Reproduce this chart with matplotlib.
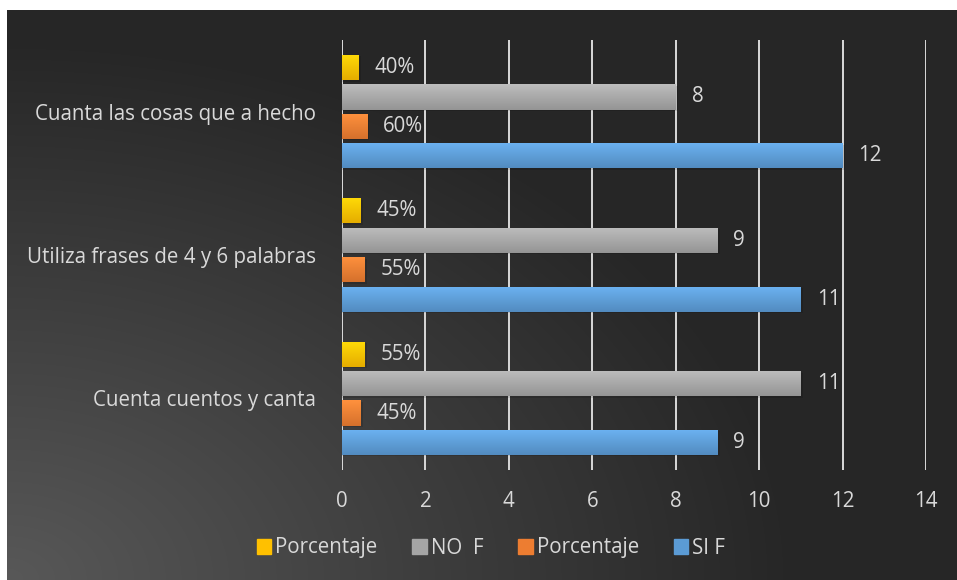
import matplotlib.pyplot as plt
import matplotlib.colors as mcolors
from matplotlib.patches import Patch
import numpy as np

plt.rcParams["font.family"] = ["Open Sans", "DejaVu Sans"]

categories = ["Cuenta cuentos y canta", "Utiliza frases de 4 y 6 palabras", "Cuanta las cosas que a hecho"]
si_f = [9, 11, 12]
si_pct = [0.45, 0.55, 0.60]
no_f = [11, 9, 8]
no_pct = [0.55, 0.45, 0.40]

series = [
    ("SI F", si_f, "#5B9BD5", False),
    ("Porcentaje", si_pct, "#ED7D31", True),
    ("NO  F", no_f, "#A5A5A5", False),
    ("Porcentaje", no_pct, "#FFC000", True),
]

W, H = 957, 580
fig = plt.figure(figsize=(W / 100, H / 100), dpi=100, facecolor="white")

# dark background with a soft light spot at the lower left
bg = fig.add_axes([7 / W, 0, 1 - 7 / W, 1 - 10 / H])
bg.set_axis_off()
yy, xx = np.mgrid[0:570, 0:950]
r = np.sqrt((xx / 950.0) ** 2 * 1.3 + ((569 - yy) / 570.0) ** 2)
t = np.clip(r / 0.95, 0, 1)
dark = np.array([38, 38, 38]) / 255.0
light = np.array([88, 88, 88]) / 255.0
img = light[None, None, :] * (1 - t[..., None]) + dark[None, None, :] * t[..., None]
bg.imshow(img, aspect="auto", extent=[0, 1, 0, 1])
bg.set_xlim(0, 1)
bg.set_ylim(0, 1)

ax = fig.add_axes([342 / W, 1 - 470 / H, (926 - 342) / W, (470 - 40) / H])
ax.patch.set_alpha(0)

y = np.arange(len(categories))
slot = 0.205
height = 0.175
text_col = "#D9D9D9"
fs = 14.8

for i, (name, vals, col, is_pct) in enumerate(series):
    off = (i - 1.5) * slot
    bars = ax.barh(y + off, vals, height=height, color=col, zorder=3)
    c = np.array(mcolors.to_rgb(col))
    grad = np.linspace(0, 1, 50)[:, None, None]
    top = np.clip(c * 1.1 + 0.03, 0, 1)
    bot = c * 0.9
    gimg = top * (1 - grad) + bot * grad
    for b in bars:
        x0, y0, w, h = b.get_x(), b.get_y(), b.get_width(), b.get_height()
        # soft shadow
        ax.barh(y0 + h / 2 - 0.01, w + 0.05, height=h, left=x0, color="black",
                alpha=0.12, zorder=2)
        im = ax.imshow(gimg, extent=[x0, x0 + w, y0, y0 + h], aspect="auto",
                       zorder=4, origin="upper")
        im.set_clip_path(b)
    for v, yp in zip(vals, y + off):
        lab = f"{v:.0%}" if is_pct else f"{v}"
        ax.text(v + 0.38, yp, lab, color=text_col, fontsize=fs, va="center", ha="left", zorder=5)

ax.set_xlim(0, 14)
ax.set_ylim(-0.5, 2.5)
ax.set_xticks(range(0, 15, 2))
ax.set_yticks(y)
ax.set_yticklabels(categories)
ax.tick_params(axis="x", colors=text_col, labelsize=fs, length=0, pad=15)
ax.tick_params(axis="y", colors=text_col, labelsize=fs, length=0, pad=19)
ax.grid(axis="x", color="#D9D9D9", linewidth=1.4, zorder=1)
for s in ax.spines.values():
    s.set_visible(False)
ax.axvline(0, color="#D9D9D9", linewidth=1.4, zorder=1)

handles = [Patch(color=s[2]) for s in series[::-1]]
labels = [s[0] for s in series[::-1]]
fig.legend(handles, labels, loc="center", bbox_to_anchor=(491 / W, 1 - 548 / H), ncol=4,
           frameon=False, fontsize=fs, labelcolor=text_col, handlelength=0.7,
           handleheight=0.7, handletextpad=0.2, columnspacing=1.7)

fig.savefig("out.png", dpi=100, facecolor="white")
